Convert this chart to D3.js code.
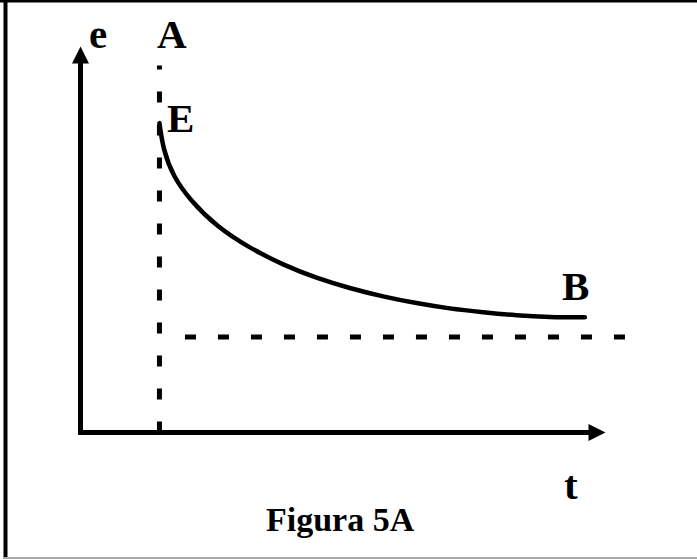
<!DOCTYPE html>
<head>
    <meta charset="utf-8" />
    <title>Figura 5A</title>
    <style>
    body {
        margin: 0;
        background: #fff;
    }

    svg {
        display: block;
    }

    text {
        font-family: "Liberation Serif", "Times New Roman", serif;
        font-weight: bold;
        fill: #000;
    }

    .curve {
        fill: none;
        stroke: #000;
        stroke-width: 4.5px;
        stroke-linecap: round;
    }

    .dash {
        fill: none;
        stroke: #000;
        stroke-width: 5px;
        stroke-dasharray: 11, 22;
    }

    .axis {
        stroke: #000;
        stroke-width: 5px;
    }
    </style>
</head>

<body>
<div id="container"></div>
</body>
<script src="https://d3js.org/d3.v7.min.js"></script>
<script>
var width = 697,
    height = 559;

// curve E -> B (t, e)
var curveT = [1.0, 1.048, 1.175, 1.386, 1.724, 2.146, 2.567, 2.990, 3.411, 3.833, 4.256, 4.677, 5.099, 5.522, 5.943, 6.388];
var curveE = [3.238, 2.958, 2.679, 2.435, 2.155, 1.929, 1.754, 1.615, 1.510, 1.422, 1.353, 1.296, 1.259, 1.225, 1.207, 1.206];

var tA = 1.0, // dashed vertical line at A
    eAsym = 1.0, // dashed horizontal asymptote
    tMax = 6.65,
    eMax = 4.04;

var axisNames = ["e", "t"];
var pointNames = ["A", "E", "B"];
var caption = "Figura 5A";

var svg = d3.select("#container")
    .append("svg")
    .attr("width", width)
    .attr("height", height)

// frame
svg.append("rect").attr("x", 0).attr("y", 0).attr("width", width).attr("height", 2.5).attr("fill", "#000")
svg.append("rect").attr("x", 3.5).attr("y", 0).attr("width", 4).attr("height", height).attr("fill", "#000")
svg.append("rect").attr("x", 3.5).attr("y", 557).attr("width", width - 3.5).attr("height", 2).attr("fill", "#aaa")

var x = d3.scaleLinear()
    .domain([0, tMax])
    .range([80.5, 605.5])
var y = d3.scaleLinear()
    .domain([0, eMax])
    .range([432.5, 46.5])

// axes with arrow heads
svg.append("line").attr("class", "axis")
    .attr("x1", x(0)).attr("y1", y(0) + 2.5)
    .attr("x2", x(0)).attr("y2", y(eMax) + 16)
svg.append("path")
    .attr("d", "M" + x(0) + "," + y(eMax) + "L" + (x(0) + 8.5) + "," + (y(eMax) + 17) + "L" + (x(0) - 8.5) + "," + (y(eMax) + 17) + "Z")
    .attr("fill", "#000")

svg.append("line").attr("class", "axis")
    .attr("x1", x(0) - 2.5).attr("y1", y(0))
    .attr("x2", x(tMax) - 16).attr("y2", y(0))
svg.append("path")
    .attr("d", "M" + x(tMax) + "," + y(0) + "L" + (x(tMax) - 17) + "," + (y(0) - 8.5) + "L" + (x(tMax) - 17) + "," + (y(0) + 8.5) + "Z")
    .attr("fill", "#000")

// dashed lines (drawn from the axis outwards so the dashes line up)
svg.append("path").attr("class", "dash")
    .attr("d", d3.line()([[x(tA), y(0)], [x(tA), y(3.84)]]))
svg.append("path").attr("class", "dash")
    .attr("d", d3.line()([[x(1.323), y(eAsym)], [x(6.9), y(eAsym)]]))

// the curve
var line_generator = d3.line()
    .x(function(d) { return x(d[0]); })
    .y(function(d) { return y(d[1]); })
    .curve(d3.curveBasis)

svg.append("path")
    .attr("class", "curve")
    .attr("d", line_generator(d3.zip(curveT, curveE)))

// labels
svg.append("text").text(axisNames[0]).attr("x", 89).attr("y", 48).attr("font-size", "41px")
svg.append("text").text(pointNames[0]).attr("x", 157).attr("y", 48).attr("font-size", "41px")
svg.append("text").text(pointNames[1]).attr("x", 167).attr("y", 132).attr("font-size", "41px")
svg.append("text").text(pointNames[2]).attr("x", 562).attr("y", 300).attr("font-size", "41px")
svg.append("text").text(axisNames[1]).attr("x", 564).attr("y", 499).attr("font-size", "41px")
svg.append("text").text(caption).attr("x", 266).attr("y", 531).attr("font-size", "34px")
</script>
